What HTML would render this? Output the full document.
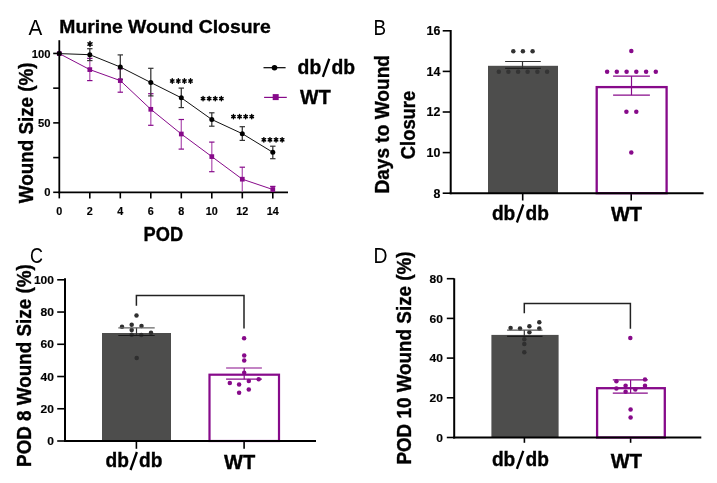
<!DOCTYPE html>
<html><head><meta charset="utf-8"><style>
html,body{margin:0;padding:0;background:#fff;}
body{width:717px;height:483px;overflow:hidden;}
svg{display:block;font-family:"Liberation Sans", sans-serif;will-change:transform;}
</style></head><body>
<svg width="717" height="483" viewBox="0 0 717 483">
<rect width="717" height="483" fill="#fff"/>
<text x="28.4" y="34.6" font-size="22.8" font-weight="normal" text-anchor="start" fill="#000" textLength="13.8" lengthAdjust="spacingAndGlyphs">A</text>
<text x="59.3" y="33.4" font-size="18.3" font-weight="bold" text-anchor="start" fill="#000" stroke="#000" stroke-width="0.35" textLength="211.5" lengthAdjust="spacingAndGlyphs">Murine Wound Closure</text>
<line x1="59.3" y1="40.2" x2="59.3" y2="193.3" stroke="#000" stroke-width="1.8"/>
<line x1="58.5" y1="192.3" x2="288" y2="192.3" stroke="#000" stroke-width="1.8"/>
<line x1="53.2" y1="192.3" x2="59.3" y2="192.3" stroke="#000" stroke-width="1.6"/>
<line x1="53.2" y1="157.5875" x2="59.3" y2="157.5875" stroke="#000" stroke-width="1.6"/>
<line x1="53.2" y1="122.87500000000001" x2="59.3" y2="122.87500000000001" stroke="#000" stroke-width="1.6"/>
<line x1="53.2" y1="88.16250000000001" x2="59.3" y2="88.16250000000001" stroke="#000" stroke-width="1.6"/>
<line x1="53.2" y1="53.45000000000002" x2="59.3" y2="53.45000000000002" stroke="#000" stroke-width="1.6"/>
<text x="50.4" y="196.4" font-size="11.3" font-weight="bold" text-anchor="end" fill="#000" stroke="#000" stroke-width="0.15" textLength="6.25" lengthAdjust="spacingAndGlyphs">0</text>
<text x="50.4" y="126.97500000000001" font-size="11.3" font-weight="bold" text-anchor="end" fill="#000" stroke="#000" stroke-width="0.15" textLength="12.5" lengthAdjust="spacingAndGlyphs">50</text>
<text x="50.4" y="57.55000000000002" font-size="11.3" font-weight="bold" text-anchor="end" fill="#000" stroke="#000" stroke-width="0.15" textLength="18.75" lengthAdjust="spacingAndGlyphs">100</text>
<line x1="59.3" y1="192.3" x2="59.3" y2="198.4" stroke="#000" stroke-width="1.6"/>
<text x="59.3" y="215.2" font-size="10.8" font-weight="bold" text-anchor="middle" fill="#000" stroke="#000" stroke-width="0.15">0</text>
<line x1="89.8" y1="192.3" x2="89.8" y2="198.4" stroke="#000" stroke-width="1.6"/>
<text x="89.8" y="215.2" font-size="10.8" font-weight="bold" text-anchor="middle" fill="#000" stroke="#000" stroke-width="0.15">2</text>
<line x1="120.3" y1="192.3" x2="120.3" y2="198.4" stroke="#000" stroke-width="1.6"/>
<text x="120.3" y="215.2" font-size="10.8" font-weight="bold" text-anchor="middle" fill="#000" stroke="#000" stroke-width="0.15">4</text>
<line x1="150.8" y1="192.3" x2="150.8" y2="198.4" stroke="#000" stroke-width="1.6"/>
<text x="150.8" y="215.2" font-size="10.8" font-weight="bold" text-anchor="middle" fill="#000" stroke="#000" stroke-width="0.15">6</text>
<line x1="181.3" y1="192.3" x2="181.3" y2="198.4" stroke="#000" stroke-width="1.6"/>
<text x="181.3" y="215.2" font-size="10.8" font-weight="bold" text-anchor="middle" fill="#000" stroke="#000" stroke-width="0.15">8</text>
<line x1="211.8" y1="192.3" x2="211.8" y2="198.4" stroke="#000" stroke-width="1.6"/>
<text x="211.8" y="215.2" font-size="10.8" font-weight="bold" text-anchor="middle" fill="#000" stroke="#000" stroke-width="0.15">10</text>
<line x1="242.3" y1="192.3" x2="242.3" y2="198.4" stroke="#000" stroke-width="1.6"/>
<text x="242.3" y="215.2" font-size="10.8" font-weight="bold" text-anchor="middle" fill="#000" stroke="#000" stroke-width="0.15">12</text>
<line x1="272.8" y1="192.3" x2="272.8" y2="198.4" stroke="#000" stroke-width="1.6"/>
<text x="272.8" y="215.2" font-size="10.8" font-weight="bold" text-anchor="middle" fill="#000" stroke="#000" stroke-width="0.15">14</text>
<text x="143.6" y="241.4" font-size="19.6" font-weight="bold" text-anchor="start" fill="#000" stroke="#000" stroke-width="0.35" textLength="39.5" lengthAdjust="spacingAndGlyphs">POD</text>
<text x="32.7" y="203.2" font-size="19.6" font-weight="bold" text-anchor="start" fill="#000" stroke="#000" stroke-width="0.35" textLength="140.8" lengthAdjust="spacingAndGlyphs" transform="rotate(-90 32.7 203.2)">Wound Size (%)</text>
<line x1="89.8" y1="58.4" x2="89.8" y2="80.6" stroke="#b45cb6" stroke-width="1.3"/>
<line x1="87.1" y1="58.4" x2="92.5" y2="58.4" stroke="#870a8a" stroke-width="1.2"/>
<line x1="87.1" y1="80.6" x2="92.5" y2="80.6" stroke="#870a8a" stroke-width="1.2"/>
<line x1="120.3" y1="68.9" x2="120.3" y2="92.2" stroke="#b45cb6" stroke-width="1.3"/>
<line x1="117.6" y1="68.9" x2="123.0" y2="68.9" stroke="#870a8a" stroke-width="1.2"/>
<line x1="117.6" y1="92.2" x2="123.0" y2="92.2" stroke="#870a8a" stroke-width="1.2"/>
<line x1="150.8" y1="93.7" x2="150.8" y2="125.3" stroke="#b45cb6" stroke-width="1.3"/>
<line x1="148.10000000000002" y1="93.7" x2="153.5" y2="93.7" stroke="#870a8a" stroke-width="1.2"/>
<line x1="148.10000000000002" y1="125.3" x2="153.5" y2="125.3" stroke="#870a8a" stroke-width="1.2"/>
<line x1="181.3" y1="119.5" x2="181.3" y2="149.1" stroke="#b45cb6" stroke-width="1.3"/>
<line x1="178.60000000000002" y1="119.5" x2="184.0" y2="119.5" stroke="#870a8a" stroke-width="1.2"/>
<line x1="178.60000000000002" y1="149.1" x2="184.0" y2="149.1" stroke="#870a8a" stroke-width="1.2"/>
<line x1="211.8" y1="142.1" x2="211.8" y2="171.7" stroke="#b45cb6" stroke-width="1.3"/>
<line x1="209.10000000000002" y1="142.1" x2="214.5" y2="142.1" stroke="#870a8a" stroke-width="1.2"/>
<line x1="209.10000000000002" y1="171.7" x2="214.5" y2="171.7" stroke="#870a8a" stroke-width="1.2"/>
<line x1="242.3" y1="167.2" x2="242.3" y2="191.5" stroke="#b45cb6" stroke-width="1.3"/>
<line x1="239.60000000000002" y1="167.2" x2="245.0" y2="167.2" stroke="#870a8a" stroke-width="1.2"/>
<line x1="272.8" y1="186.4" x2="272.8" y2="192" stroke="#b45cb6" stroke-width="1.3"/>
<line x1="270.1" y1="186.4" x2="275.5" y2="186.4" stroke="#870a8a" stroke-width="1.2"/>
<line x1="89.8" y1="48.7" x2="89.8" y2="60.6" stroke="#3a3a3a" stroke-width="1.3"/>
<line x1="87.1" y1="48.7" x2="92.5" y2="48.7" stroke="#333" stroke-width="1.2"/>
<line x1="87.1" y1="60.6" x2="92.5" y2="60.6" stroke="#333" stroke-width="1.2"/>
<line x1="120.3" y1="54.9" x2="120.3" y2="79.5" stroke="#3a3a3a" stroke-width="1.3"/>
<line x1="117.6" y1="54.9" x2="123.0" y2="54.9" stroke="#333" stroke-width="1.2"/>
<line x1="117.6" y1="79.5" x2="123.0" y2="79.5" stroke="#333" stroke-width="1.2"/>
<line x1="150.8" y1="68.3" x2="150.8" y2="95.9" stroke="#3a3a3a" stroke-width="1.3"/>
<line x1="148.10000000000002" y1="68.3" x2="153.5" y2="68.3" stroke="#333" stroke-width="1.2"/>
<line x1="148.10000000000002" y1="95.9" x2="153.5" y2="95.9" stroke="#333" stroke-width="1.2"/>
<line x1="181.3" y1="88.1" x2="181.3" y2="107.6" stroke="#3a3a3a" stroke-width="1.3"/>
<line x1="178.60000000000002" y1="88.1" x2="184.0" y2="88.1" stroke="#333" stroke-width="1.2"/>
<line x1="178.60000000000002" y1="107.6" x2="184.0" y2="107.6" stroke="#333" stroke-width="1.2"/>
<line x1="211.8" y1="112.8" x2="211.8" y2="126.2" stroke="#3a3a3a" stroke-width="1.3"/>
<line x1="209.10000000000002" y1="112.8" x2="214.5" y2="112.8" stroke="#333" stroke-width="1.2"/>
<line x1="209.10000000000002" y1="126.2" x2="214.5" y2="126.2" stroke="#333" stroke-width="1.2"/>
<line x1="242.3" y1="126.7" x2="242.3" y2="140.4" stroke="#3a3a3a" stroke-width="1.3"/>
<line x1="239.60000000000002" y1="126.7" x2="245.0" y2="126.7" stroke="#333" stroke-width="1.2"/>
<line x1="239.60000000000002" y1="140.4" x2="245.0" y2="140.4" stroke="#333" stroke-width="1.2"/>
<line x1="272.8" y1="146.2" x2="272.8" y2="158.7" stroke="#3a3a3a" stroke-width="1.3"/>
<line x1="270.1" y1="146.2" x2="275.5" y2="146.2" stroke="#333" stroke-width="1.2"/>
<line x1="270.1" y1="158.7" x2="275.5" y2="158.7" stroke="#333" stroke-width="1.2"/>
<polyline fill="none" stroke="#870a8a" stroke-width="1.0" points="59.30,53.6 89.80,69.6 120.30,80.6 150.80,109.3 181.30,134.0 211.80,156.6 242.30,179.2 272.80,189.5"/>
<polyline fill="none" stroke="#111" stroke-width="1.0" points="59.30,53.6 89.80,54.7 120.30,67.0 150.80,82.5 181.30,97.8 211.80,119.5 242.30,133.7 272.80,152.3"/>
<rect x="56.949999999999996" y="51.25" width="4.7" height="4.7" fill="#870a8a"/>
<rect x="87.45" y="67.25" width="4.7" height="4.7" fill="#870a8a"/>
<rect x="117.95" y="78.25" width="4.7" height="4.7" fill="#870a8a"/>
<rect x="148.45000000000002" y="106.95" width="4.7" height="4.7" fill="#870a8a"/>
<rect x="178.95000000000002" y="131.65" width="4.7" height="4.7" fill="#870a8a"/>
<rect x="209.45000000000002" y="154.25" width="4.7" height="4.7" fill="#870a8a"/>
<rect x="239.95000000000002" y="176.85" width="4.7" height="4.7" fill="#870a8a"/>
<rect x="270.45" y="187.15" width="4.7" height="4.7" fill="#870a8a"/>
<circle cx="59.3" cy="53.6" r="2.5" fill="#000"/>
<circle cx="89.8" cy="54.7" r="2.5" fill="#000"/>
<circle cx="120.3" cy="67.0" r="2.5" fill="#000"/>
<circle cx="150.8" cy="82.5" r="2.5" fill="#000"/>
<circle cx="181.3" cy="97.8" r="2.5" fill="#000"/>
<circle cx="211.8" cy="119.5" r="2.5" fill="#000"/>
<circle cx="242.3" cy="133.7" r="2.5" fill="#000"/>
<circle cx="272.8" cy="152.3" r="2.5" fill="#000"/>
<path d="M90.00 41.50L90.00 46.50M88.03 42.77L91.97 45.23M91.97 42.77L88.03 45.23" stroke="#000" stroke-width="1.5" stroke-linecap="round" fill="none"/>
<path d="M172.25 78.80L172.25 83.20M170.51 79.92L173.99 82.08M173.99 79.92L170.51 82.08" stroke="#000" stroke-width="1.45" stroke-linecap="round" fill="none"/>
<path d="M178.35 78.80L178.35 83.20M176.61 79.92L180.09 82.08M180.09 79.92L176.61 82.08" stroke="#000" stroke-width="1.45" stroke-linecap="round" fill="none"/>
<path d="M184.45 78.80L184.45 83.20M182.71 79.92L186.19 82.08M186.19 79.92L182.71 82.08" stroke="#000" stroke-width="1.45" stroke-linecap="round" fill="none"/>
<path d="M190.55 78.80L190.55 83.20M188.81 79.92L192.29 82.08M192.29 79.92L188.81 82.08" stroke="#000" stroke-width="1.45" stroke-linecap="round" fill="none"/>
<path d="M203.05 96.40L203.05 100.80M201.31 97.52L204.79 99.68M204.79 97.52L201.31 99.68" stroke="#000" stroke-width="1.45" stroke-linecap="round" fill="none"/>
<path d="M209.15 96.40L209.15 100.80M207.41 97.52L210.89 99.68M210.89 97.52L207.41 99.68" stroke="#000" stroke-width="1.45" stroke-linecap="round" fill="none"/>
<path d="M215.25 96.40L215.25 100.80M213.51 97.52L216.99 99.68M216.99 97.52L213.51 99.68" stroke="#000" stroke-width="1.45" stroke-linecap="round" fill="none"/>
<path d="M221.35 96.40L221.35 100.80M219.61 97.52L223.09 99.68M223.09 97.52L219.61 99.68" stroke="#000" stroke-width="1.45" stroke-linecap="round" fill="none"/>
<path d="M233.45 114.40L233.45 118.80M231.71 115.52L235.19 117.68M235.19 115.52L231.71 117.68" stroke="#000" stroke-width="1.45" stroke-linecap="round" fill="none"/>
<path d="M239.55 114.40L239.55 118.80M237.81 115.52L241.29 117.68M241.29 115.52L237.81 117.68" stroke="#000" stroke-width="1.45" stroke-linecap="round" fill="none"/>
<path d="M245.65 114.40L245.65 118.80M243.91 115.52L247.39 117.68M247.39 115.52L243.91 117.68" stroke="#000" stroke-width="1.45" stroke-linecap="round" fill="none"/>
<path d="M251.75 114.40L251.75 118.80M250.01 115.52L253.49 117.68M253.49 115.52L250.01 117.68" stroke="#000" stroke-width="1.45" stroke-linecap="round" fill="none"/>
<path d="M263.85 137.60L263.85 142.00M262.11 138.72L265.59 140.88M265.59 138.72L262.11 140.88" stroke="#000" stroke-width="1.45" stroke-linecap="round" fill="none"/>
<path d="M269.95 137.60L269.95 142.00M268.21 138.72L271.69 140.88M271.69 138.72L268.21 140.88" stroke="#000" stroke-width="1.45" stroke-linecap="round" fill="none"/>
<path d="M276.05 137.60L276.05 142.00M274.31 138.72L277.79 140.88M277.79 138.72L274.31 140.88" stroke="#000" stroke-width="1.45" stroke-linecap="round" fill="none"/>
<path d="M282.15 137.60L282.15 142.00M280.41 138.72L283.89 140.88M283.89 138.72L280.41 140.88" stroke="#000" stroke-width="1.45" stroke-linecap="round" fill="none"/>
<line x1="263.5" y1="67.7" x2="285.6" y2="67.7" stroke="#000" stroke-width="1.2"/>
<circle cx="274.5" cy="67.7" r="2.8" fill="#000"/>
<text x="297.592" y="73.9" font-size="20.2" font-weight="bold" text-anchor="start" fill="#000" stroke="#000" stroke-width="0.35" textLength="23.634" lengthAdjust="spacingAndGlyphs">db</text>
<line x1="322.842" y1="76.93" x2="329.306" y2="58.75000000000001" stroke="#000" stroke-width="2.3"/>
<text x="331.52799999999996" y="73.9" font-size="20.2" font-weight="bold" text-anchor="start" fill="#000" stroke="#000" stroke-width="0.35" textLength="23.634" lengthAdjust="spacingAndGlyphs">db</text>
<line x1="264.1" y1="97.4" x2="286.8" y2="97.4" stroke="#870a8a" stroke-width="1.2"/>
<rect x="272.7" y="94.1" width="6" height="6" fill="#870a8a"/>
<text x="300.1" y="104.1" font-size="20" font-weight="bold" text-anchor="start" fill="#000" stroke="#000" stroke-width="0.35" textLength="30.6" lengthAdjust="spacingAndGlyphs">WT</text>
<text x="373.6" y="34.8" font-size="22.8" font-weight="normal" text-anchor="start" fill="#000" textLength="12.6" lengthAdjust="spacingAndGlyphs">B</text>
<line x1="442.7" y1="193.2" x2="450.7" y2="193.2" stroke="#000" stroke-width="1.6"/>
<text x="440.4" y="197.5" font-size="12" font-weight="bold" text-anchor="end" fill="#000" stroke="#000" stroke-width="0.15" textLength="6.9" lengthAdjust="spacingAndGlyphs">8</text>
<line x1="442.7" y1="152.6" x2="450.7" y2="152.6" stroke="#000" stroke-width="1.6"/>
<text x="440.4" y="156.9" font-size="12" font-weight="bold" text-anchor="end" fill="#000" stroke="#000" stroke-width="0.15" textLength="13.8" lengthAdjust="spacingAndGlyphs">10</text>
<line x1="442.7" y1="111.99999999999999" x2="450.7" y2="111.99999999999999" stroke="#000" stroke-width="1.6"/>
<text x="440.4" y="116.29999999999998" font-size="12" font-weight="bold" text-anchor="end" fill="#000" stroke="#000" stroke-width="0.15" textLength="13.8" lengthAdjust="spacingAndGlyphs">12</text>
<line x1="442.7" y1="71.39999999999998" x2="450.7" y2="71.39999999999998" stroke="#000" stroke-width="1.6"/>
<text x="440.4" y="75.69999999999997" font-size="12" font-weight="bold" text-anchor="end" fill="#000" stroke="#000" stroke-width="0.15" textLength="13.8" lengthAdjust="spacingAndGlyphs">14</text>
<line x1="442.7" y1="30.799999999999983" x2="450.7" y2="30.799999999999983" stroke="#000" stroke-width="1.6"/>
<text x="440.4" y="35.09999999999998" font-size="12" font-weight="bold" text-anchor="end" fill="#000" stroke="#000" stroke-width="0.15" textLength="13.8" lengthAdjust="spacingAndGlyphs">16</text>
<line x1="522.7" y1="193.2" x2="522.7" y2="200.5" stroke="#000" stroke-width="1.6"/>
<line x1="631.2" y1="193.2" x2="631.2" y2="200.5" stroke="#000" stroke-width="1.6"/>
<rect x="488" y="65.8" width="70" height="127.39999999999999" fill="#4d4d4c"/>
<rect x="596.7" y="87.1" width="69.9" height="106.1" fill="none" stroke="#870a8a" stroke-width="2.3"/>
<line x1="450.7" y1="30.0" x2="450.7" y2="194.2" stroke="#000" stroke-width="2.0"/>
<line x1="449.7" y1="193.2" x2="703.6" y2="193.2" stroke="#000" stroke-width="2.0"/>
<line x1="522.5" y1="61.5" x2="522.5" y2="68.3" stroke="#333" stroke-width="1.2"/>
<line x1="505.1" y1="61.5" x2="540.8" y2="61.5" stroke="#333" stroke-width="1.2"/>
<line x1="505.1" y1="68.3" x2="540.8" y2="68.3" stroke="#222" stroke-width="1.2"/>
<circle cx="513.3" cy="51.2" r="2.25" fill="#333"/>
<circle cx="522.9" cy="51.2" r="2.25" fill="#333"/>
<circle cx="532.6" cy="51.2" r="2.25" fill="#333"/>
<circle cx="498.8" cy="71.7" r="2.25" fill="#343434"/>
<circle cx="508.4" cy="71.7" r="2.25" fill="#343434"/>
<circle cx="518.1" cy="71.7" r="2.25" fill="#343434"/>
<circle cx="527.6" cy="71.7" r="2.25" fill="#343434"/>
<circle cx="537.4" cy="71.7" r="2.25" fill="#343434"/>
<circle cx="547.1" cy="71.7" r="2.25" fill="#343434"/>
<line x1="631.5" y1="76.2" x2="631.5" y2="95.1" stroke="#870a8a" stroke-width="1.2"/>
<line x1="613.1" y1="76.2" x2="649.9" y2="76.2" stroke="#870a8a" stroke-width="1.2"/>
<line x1="613.1" y1="95.1" x2="649.9" y2="95.1" stroke="#870a8a" stroke-width="1.2"/>
<circle cx="631.3" cy="50.9" r="2.25" fill="#870a8a"/>
<circle cx="607.1" cy="71.7" r="2.25" fill="#870a8a"/>
<circle cx="616.8" cy="71.7" r="2.25" fill="#870a8a"/>
<circle cx="626.6" cy="71.7" r="2.25" fill="#870a8a"/>
<circle cx="636.3" cy="71.7" r="2.25" fill="#870a8a"/>
<circle cx="646.1" cy="71.7" r="2.25" fill="#870a8a"/>
<circle cx="655.8" cy="71.7" r="2.25" fill="#870a8a"/>
<circle cx="626.4" cy="111.8" r="2.25" fill="#870a8a"/>
<circle cx="636.3" cy="111.8" r="2.25" fill="#870a8a"/>
<circle cx="631.3" cy="152.5" r="2.25" fill="#870a8a"/>
<text x="491.9" y="219.5" font-size="20" font-weight="bold" text-anchor="start" fill="#000" stroke="#000" stroke-width="0.35" textLength="23.4" lengthAdjust="spacingAndGlyphs">db</text>
<line x1="516.9" y1="222.5" x2="523.3" y2="204.5" stroke="#000" stroke-width="2.3"/>
<text x="525.5" y="219.5" font-size="20" font-weight="bold" text-anchor="start" fill="#000" stroke="#000" stroke-width="0.35" textLength="23.4" lengthAdjust="spacingAndGlyphs">db</text>
<text x="610.9" y="220.8" font-size="19.8" font-weight="bold" text-anchor="start" fill="#000" stroke="#000" stroke-width="0.35" textLength="31.2" lengthAdjust="spacingAndGlyphs">WT</text>
<text x="388.8" y="193.6" font-size="19.5" font-weight="bold" text-anchor="start" fill="#000" stroke="#000" stroke-width="0.35" textLength="138.6" lengthAdjust="spacingAndGlyphs" transform="rotate(-90 388.8 193.6)">Days to Wound</text>
<text x="415.3" y="159.2" font-size="19.5" font-weight="bold" text-anchor="start" fill="#000" stroke="#000" stroke-width="0.35" textLength="68.4" lengthAdjust="spacingAndGlyphs" transform="rotate(-90 415.3 159.2)">Closure</text>
<text x="30.0" y="262.8" font-size="22.8" font-weight="normal" text-anchor="start" fill="#000" textLength="13.0" lengthAdjust="spacingAndGlyphs">C</text>
<line x1="57.2" y1="441.0" x2="65.0" y2="441.0" stroke="#000" stroke-width="1.6"/>
<text x="54.0" y="445.2" font-size="11.6" font-weight="bold" text-anchor="end" fill="#000" stroke="#000" stroke-width="0.15" textLength="6.7" lengthAdjust="spacingAndGlyphs">0</text>
<line x1="57.2" y1="408.76" x2="65.0" y2="408.76" stroke="#000" stroke-width="1.6"/>
<text x="54.0" y="412.96" font-size="11.6" font-weight="bold" text-anchor="end" fill="#000" stroke="#000" stroke-width="0.15" textLength="13.4" lengthAdjust="spacingAndGlyphs">20</text>
<line x1="57.2" y1="376.52" x2="65.0" y2="376.52" stroke="#000" stroke-width="1.6"/>
<text x="54.0" y="380.71999999999997" font-size="11.6" font-weight="bold" text-anchor="end" fill="#000" stroke="#000" stroke-width="0.15" textLength="13.4" lengthAdjust="spacingAndGlyphs">40</text>
<line x1="57.2" y1="344.28" x2="65.0" y2="344.28" stroke="#000" stroke-width="1.6"/>
<text x="54.0" y="348.47999999999996" font-size="11.6" font-weight="bold" text-anchor="end" fill="#000" stroke="#000" stroke-width="0.15" textLength="13.4" lengthAdjust="spacingAndGlyphs">60</text>
<line x1="57.2" y1="312.03999999999996" x2="65.0" y2="312.03999999999996" stroke="#000" stroke-width="1.6"/>
<text x="54.0" y="316.23999999999995" font-size="11.6" font-weight="bold" text-anchor="end" fill="#000" stroke="#000" stroke-width="0.15" textLength="13.4" lengthAdjust="spacingAndGlyphs">80</text>
<line x1="57.2" y1="279.79999999999995" x2="65.0" y2="279.79999999999995" stroke="#000" stroke-width="1.6"/>
<text x="54.0" y="283.99999999999994" font-size="11.6" font-weight="bold" text-anchor="end" fill="#000" stroke="#000" stroke-width="0.15" textLength="20.1" lengthAdjust="spacingAndGlyphs">100</text>
<line x1="136.4" y1="441.0" x2="136.4" y2="448.8" stroke="#000" stroke-width="1.6"/>
<line x1="244.1" y1="441.0" x2="244.1" y2="448.8" stroke="#000" stroke-width="1.6"/>
<rect x="102" y="333.0" width="69" height="108.0" fill="#4d4d4c"/>
<rect x="209.5" y="374.7" width="69.5" height="66.30000000000001" fill="none" stroke="#870a8a" stroke-width="2.2"/>
<line x1="65.0" y1="278.3" x2="65.0" y2="442.0" stroke="#000" stroke-width="2.0"/>
<line x1="64.0" y1="441.0" x2="316.0" y2="441.0" stroke="#000" stroke-width="2.0"/>
<polyline fill="none" stroke="#222" stroke-width="1.5" points="136.4,305.8 136.4,295.6 244.0,295.6 244.0,328.5"/>
<circle cx="136.5" cy="315.4" r="2.25" fill="#2f2f2f"/>
<circle cx="122" cy="326.7" r="2.25" fill="#2f2f2f"/>
<circle cx="131.7" cy="324.7" r="2.25" fill="#2f2f2f"/>
<circle cx="141.5" cy="325.9" r="2.25" fill="#2f2f2f"/>
<circle cx="131.7" cy="329.9" r="2.25" fill="#2f2f2f"/>
<circle cx="151" cy="332.8" r="2.25" fill="#2f2f2f"/>
<circle cx="131.7" cy="334.8" r="2.25" fill="#2f2f2f"/>
<circle cx="141.3" cy="335.0" r="2.25" fill="#2f2f2f"/>
<circle cx="136.7" cy="357.9" r="2.25" fill="#2f2f2f"/>
<line x1="136.5" y1="327.8" x2="136.5" y2="335.5" stroke="#333" stroke-width="1.2"/>
<line x1="118.3" y1="327.8" x2="154.7" y2="327.8" stroke="#666" stroke-width="1.2"/>
<line x1="118.3" y1="335.5" x2="154.7" y2="335.5" stroke="#1a1a1a" stroke-width="1.2"/>
<circle cx="244.1" cy="338.2" r="2.25" fill="#870a8a"/>
<circle cx="244.2" cy="355.6" r="2.25" fill="#870a8a"/>
<circle cx="244.2" cy="360.6" r="2.25" fill="#870a8a"/>
<circle cx="244.2" cy="372.7" r="2.25" fill="#870a8a"/>
<circle cx="248.8" cy="381.1" r="2.25" fill="#870a8a"/>
<circle cx="258.7" cy="379.2" r="2.25" fill="#870a8a"/>
<circle cx="229.8" cy="383.0" r="2.25" fill="#870a8a"/>
<circle cx="239.1" cy="384.4" r="2.25" fill="#870a8a"/>
<circle cx="248.8" cy="389.5" r="2.25" fill="#870a8a"/>
<circle cx="239.1" cy="392.8" r="2.25" fill="#870a8a"/>
<line x1="244.2" y1="368.0" x2="244.2" y2="379.2" stroke="#870a8a" stroke-width="1.2"/>
<line x1="226.1" y1="368.0" x2="261.9" y2="368.0" stroke="#870a8a" stroke-width="1.2"/>
<line x1="226.1" y1="379.2" x2="261.9" y2="379.2" stroke="#870a8a" stroke-width="1.2"/>
<text x="105.5" y="467.0" font-size="20" font-weight="bold" text-anchor="start" fill="#000" stroke="#000" stroke-width="0.35" textLength="23.4" lengthAdjust="spacingAndGlyphs">db</text>
<line x1="130.5" y1="470.0" x2="136.9" y2="452.0" stroke="#000" stroke-width="2.3"/>
<text x="139.1" y="467.0" font-size="20" font-weight="bold" text-anchor="start" fill="#000" stroke="#000" stroke-width="0.35" textLength="23.4" lengthAdjust="spacingAndGlyphs">db</text>
<text x="224.0" y="468.9" font-size="19.8" font-weight="bold" text-anchor="start" fill="#000" stroke="#000" stroke-width="0.35" textLength="31.2" lengthAdjust="spacingAndGlyphs">WT</text>
<text x="30.9" y="466.9" font-size="19.6" font-weight="bold" text-anchor="start" fill="#000" stroke="#000" stroke-width="0.35" textLength="202.6" lengthAdjust="spacingAndGlyphs" transform="rotate(-90 30.9 466.9)">POD 8 Wound Size (%)</text>
<text x="373.6" y="262.8" font-size="22.8" font-weight="normal" text-anchor="start" fill="#000" textLength="14.0" lengthAdjust="spacingAndGlyphs">D</text>
<line x1="446.8" y1="437.5" x2="454.2" y2="437.5" stroke="#000" stroke-width="1.6"/>
<text x="443.0" y="441.7" font-size="11.6" font-weight="bold" text-anchor="end" fill="#000" stroke="#000" stroke-width="0.15" textLength="6.7" lengthAdjust="spacingAndGlyphs">0</text>
<line x1="446.8" y1="397.8" x2="454.2" y2="397.8" stroke="#000" stroke-width="1.6"/>
<text x="443.0" y="402.0" font-size="11.6" font-weight="bold" text-anchor="end" fill="#000" stroke="#000" stroke-width="0.15" textLength="13.4" lengthAdjust="spacingAndGlyphs">20</text>
<line x1="446.8" y1="358.1" x2="454.2" y2="358.1" stroke="#000" stroke-width="1.6"/>
<text x="443.0" y="362.3" font-size="11.6" font-weight="bold" text-anchor="end" fill="#000" stroke="#000" stroke-width="0.15" textLength="13.4" lengthAdjust="spacingAndGlyphs">40</text>
<line x1="446.8" y1="318.4" x2="454.2" y2="318.4" stroke="#000" stroke-width="1.6"/>
<text x="443.0" y="322.59999999999997" font-size="11.6" font-weight="bold" text-anchor="end" fill="#000" stroke="#000" stroke-width="0.15" textLength="13.4" lengthAdjust="spacingAndGlyphs">60</text>
<line x1="446.8" y1="278.7" x2="454.2" y2="278.7" stroke="#000" stroke-width="1.6"/>
<text x="443.0" y="282.9" font-size="11.6" font-weight="bold" text-anchor="end" fill="#000" stroke="#000" stroke-width="0.15" textLength="13.4" lengthAdjust="spacingAndGlyphs">80</text>
<line x1="524.4" y1="437.5" x2="524.4" y2="442.8" stroke="#000" stroke-width="1.6"/>
<line x1="630.6" y1="437.5" x2="630.6" y2="442.8" stroke="#000" stroke-width="1.6"/>
<rect x="491.4" y="334.9" width="67.2" height="102.60000000000002" fill="#4d4d4c"/>
<rect x="597.1" y="388.2" width="67.7" height="49.30000000000001" fill="none" stroke="#870a8a" stroke-width="2.3"/>
<line x1="454.2" y1="278.3" x2="454.2" y2="438.5" stroke="#000" stroke-width="2.0"/>
<line x1="453.2" y1="437.5" x2="701.3" y2="437.5" stroke="#000" stroke-width="2.0"/>
<polyline fill="none" stroke="#222" stroke-width="1.5" points="524.3,313.2 524.3,303.6 630.4,303.6 630.4,328.8"/>
<circle cx="510.6" cy="328.0" r="2.25" fill="#2f2f2f"/>
<circle cx="520.0" cy="328.4" r="2.25" fill="#2f2f2f"/>
<circle cx="529.4" cy="326.2" r="2.25" fill="#2f2f2f"/>
<circle cx="539.3" cy="322.2" r="2.25" fill="#2f2f2f"/>
<circle cx="539.3" cy="328.4" r="2.25" fill="#2f2f2f"/>
<circle cx="529.4" cy="332.3" r="2.25" fill="#2f2f2f"/>
<circle cx="524.3" cy="339.3" r="2.25" fill="#2f2f2f"/>
<circle cx="524.3" cy="344.1" r="2.25" fill="#2f2f2f"/>
<circle cx="524.3" cy="352.3" r="2.25" fill="#2f2f2f"/>
<line x1="524.3" y1="330.1" x2="524.3" y2="336.4" stroke="#333" stroke-width="1.2"/>
<line x1="507.1" y1="330.1" x2="542.5" y2="330.1" stroke="#555" stroke-width="1.2"/>
<line x1="507.1" y1="336.4" x2="542.5" y2="336.4" stroke="#1a1a1a" stroke-width="1.2"/>
<circle cx="630.3" cy="338.1" r="2.25" fill="#870a8a"/>
<circle cx="616.4" cy="381.3" r="2.25" fill="#870a8a"/>
<circle cx="645.0" cy="379.6" r="2.25" fill="#870a8a"/>
<circle cx="625.6" cy="385.7" r="2.25" fill="#870a8a"/>
<circle cx="645.0" cy="385.7" r="2.25" fill="#870a8a"/>
<circle cx="616.4" cy="388.6" r="2.25" fill="#870a8a"/>
<circle cx="635.3" cy="389.4" r="2.25" fill="#870a8a"/>
<circle cx="625.6" cy="391.8" r="2.25" fill="#870a8a"/>
<circle cx="630.6" cy="409.5" r="2.25" fill="#870a8a"/>
<circle cx="630.6" cy="417.6" r="2.25" fill="#870a8a"/>
<line x1="630.6" y1="379.9" x2="630.6" y2="393.2" stroke="#870a8a" stroke-width="1.2"/>
<line x1="612.8" y1="379.9" x2="647.8" y2="379.9" stroke="#870a8a" stroke-width="1.2"/>
<line x1="612.8" y1="393.2" x2="647.8" y2="393.2" stroke="#870a8a" stroke-width="1.2"/>
<text x="491.9" y="465.8" font-size="20" font-weight="bold" text-anchor="start" fill="#000" stroke="#000" stroke-width="0.35" textLength="23.4" lengthAdjust="spacingAndGlyphs">db</text>
<line x1="516.9" y1="468.8" x2="523.3" y2="450.8" stroke="#000" stroke-width="2.3"/>
<text x="525.5" y="465.8" font-size="20" font-weight="bold" text-anchor="start" fill="#000" stroke="#000" stroke-width="0.35" textLength="23.4" lengthAdjust="spacingAndGlyphs">db</text>
<text x="610.8" y="467.5" font-size="19.8" font-weight="bold" text-anchor="start" fill="#000" stroke="#000" stroke-width="0.35" textLength="31.2" lengthAdjust="spacingAndGlyphs">WT</text>
<text x="411.0" y="464.6" font-size="19.6" font-weight="bold" text-anchor="start" fill="#000" stroke="#000" stroke-width="0.35" textLength="213.2" lengthAdjust="spacingAndGlyphs" transform="rotate(-90 411.0 464.6)">POD 10 Wound Size (%)</text>
</svg>
</body></html>
